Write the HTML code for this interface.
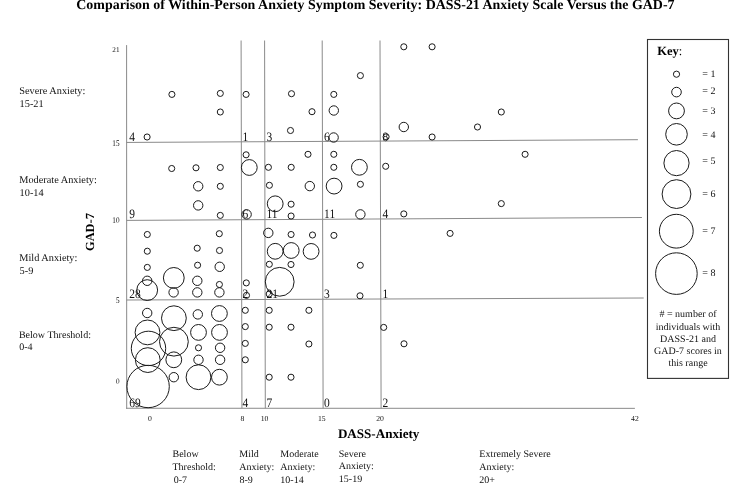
<!DOCTYPE html>
<html><head><meta charset="utf-8"><title>Comparison of Within-Person Anxiety Symptom Severity</title>
<style>
html,body{margin:0;padding:0;background:#fff;}
body{width:743px;height:495px;overflow:hidden;}
svg{display:block;text-rendering:geometricPrecision;font-family:"Liberation Serif",serif;}
.g{stroke:#8a8a8a;stroke-width:1;fill:none;}
.c{stroke:#1a1a1a;stroke-width:1;fill:none;}
.t{font-size:7.2px;fill:#111;}
.n{font-size:11.5px;fill:#111;}
.l{font-size:10px;fill:#111;}
.k{font-size:10px;fill:#111;}
.b{font-weight:bold;fill:#000;}
</style></head><body>
<svg width="743" height="495" viewBox="0 0 743 495">
<rect width="743" height="495" fill="#fff"/>
<text class="b" x="375.4" y="9.2" font-size="13.9px" text-anchor="middle" textLength="598.2" lengthAdjust="spacingAndGlyphs">Comparison of Within-Person Anxiety Symptom Severity: DASS-21 Anxiety Scale Versus the GAD-7</text>
<g class="g">
<line x1="126.6" y1="45.1" x2="126.7" y2="408.8"/>
<line x1="126.1" y1="408.25" x2="634.9" y2="408.35"/>
<line x1="241.1" y1="40.5" x2="241.95" y2="408.3"/>
<line x1="264.6" y1="40.5" x2="265.3" y2="408.3"/>
<line x1="322.2" y1="40.5" x2="323.1" y2="408.3"/>
<line x1="380.0" y1="40.5" x2="381.1" y2="408.3"/>
<line x1="126.5" y1="142.45" x2="637.9" y2="139.7"/>
<line x1="126.5" y1="220.4" x2="641.9" y2="217.5"/>
<line x1="126.5" y1="300.0" x2="643.7" y2="298.0"/>
</g>
<g class="c">
<circle cx="403.8" cy="46.8" r="3.05"/>
<circle cx="432.1" cy="46.8" r="3.05"/>
<circle cx="360.4" cy="75.6" r="3.05"/>
<circle cx="171.9" cy="94.4" r="3.05"/>
<circle cx="220.3" cy="93.4" r="3.05"/>
<circle cx="246.1" cy="94.4" r="3.05"/>
<circle cx="291.5" cy="93.7" r="3.05"/>
<circle cx="333.8" cy="94.4" r="3.05"/>
<circle cx="220.3" cy="112" r="3.05"/>
<circle cx="312" cy="111.7" r="3.05"/>
<circle cx="333.8" cy="110.5" r="4.7"/>
<circle cx="501.3" cy="112" r="3.05"/>
<circle cx="290.5" cy="130.5" r="3.05"/>
<circle cx="403.8" cy="127" r="4.7"/>
<circle cx="477.5" cy="127" r="3.05"/>
<circle cx="147.1" cy="137" r="3.05"/>
<circle cx="333.6" cy="137.5" r="4.7"/>
<circle cx="386.1" cy="136.8" r="3.05"/>
<circle cx="432.1" cy="137" r="3.05"/>
<circle cx="246.1" cy="154.8" r="3.05"/>
<circle cx="308" cy="154.3" r="3.05"/>
<circle cx="333.8" cy="154.3" r="3.05"/>
<circle cx="525.1" cy="154.3" r="3.05"/>
<circle cx="171.7" cy="168.5" r="3.05"/>
<circle cx="196" cy="167.8" r="3.05"/>
<circle cx="220.3" cy="167.5" r="3.05"/>
<circle cx="249.3" cy="167.5" r="7.9"/>
<circle cx="268.4" cy="167.3" r="3.05"/>
<circle cx="291.2" cy="167.3" r="3.05"/>
<circle cx="333.8" cy="167.3" r="3.05"/>
<circle cx="359.4" cy="167.3" r="7.9"/>
<circle cx="385.7" cy="166.3" r="3.05"/>
<circle cx="198.2" cy="186.3" r="4.7"/>
<circle cx="220.3" cy="186.3" r="3.05"/>
<circle cx="269.4" cy="185.3" r="3.05"/>
<circle cx="309.8" cy="186.1" r="4.7"/>
<circle cx="334.1" cy="186.1" r="7.9"/>
<circle cx="360.4" cy="184.3" r="3.05"/>
<circle cx="198.2" cy="205.4" r="4.7"/>
<circle cx="275.2" cy="203.8" r="7.9"/>
<circle cx="291.1" cy="204.2" r="3.05"/>
<circle cx="501.3" cy="203.6" r="3.05"/>
<circle cx="220.3" cy="215.4" r="3.05"/>
<circle cx="246.6" cy="214.4" r="4.7"/>
<circle cx="291.1" cy="216" r="3.05"/>
<circle cx="360.4" cy="214.4" r="4.7"/>
<circle cx="403.8" cy="213.9" r="3.05"/>
<circle cx="147.3" cy="234.5" r="3.05"/>
<circle cx="219.3" cy="233.7" r="3.05"/>
<circle cx="268.3" cy="232.9" r="4.7"/>
<circle cx="291.1" cy="234.5" r="3.05"/>
<circle cx="312.5" cy="235" r="3.05"/>
<circle cx="333.9" cy="235.4" r="3.05"/>
<circle cx="450.1" cy="233.4" r="3.05"/>
<circle cx="197.2" cy="248.2" r="3.05"/>
<circle cx="147.3" cy="251.2" r="3.05"/>
<circle cx="219.5" cy="250.5" r="3.05"/>
<circle cx="275.2" cy="251.3" r="7.9"/>
<circle cx="291.2" cy="250.5" r="7.9"/>
<circle cx="311.1" cy="251.4" r="7.9"/>
<circle cx="147.3" cy="267.4" r="3.05"/>
<circle cx="197.6" cy="265.2" r="3.05"/>
<circle cx="219.7" cy="266.8" r="4.7"/>
<circle cx="269.3" cy="264.3" r="3.05"/>
<circle cx="291" cy="264.5" r="3.05"/>
<circle cx="360.3" cy="265.3" r="3.05"/>
<circle cx="173.8" cy="277.9" r="10.4"/>
<circle cx="147.2" cy="280.8" r="4.7"/>
<circle cx="197.3" cy="280.8" r="4.7"/>
<circle cx="219.4" cy="284.5" r="3.05"/>
<circle cx="279.7" cy="281.8" r="14.4"/>
<circle cx="246.3" cy="282.9" r="3.05"/>
<circle cx="147.2" cy="290.1" r="10.4"/>
<circle cx="173.6" cy="292.4" r="4.7"/>
<circle cx="197.3" cy="292.4" r="4.7"/>
<circle cx="219.4" cy="292.4" r="4.7"/>
<circle cx="246.5" cy="295.4" r="3.05"/>
<circle cx="269.2" cy="294" r="3.05"/>
<circle cx="360" cy="295.8" r="3.05"/>
<circle cx="147.2" cy="313" r="4.7"/>
<circle cx="173.9" cy="318.2" r="12.4"/>
<circle cx="197.8" cy="314.4" r="4.7"/>
<circle cx="219.4" cy="313.5" r="7.9"/>
<circle cx="245.3" cy="310.3" r="3.05"/>
<circle cx="269.2" cy="310.3" r="3.05"/>
<circle cx="308.9" cy="310.3" r="3.05"/>
<circle cx="147.5" cy="332.4" r="12.4"/>
<circle cx="198.5" cy="332.4" r="7.9"/>
<circle cx="219.5" cy="332.4" r="7.9"/>
<circle cx="245.3" cy="326.6" r="3.05"/>
<circle cx="269.2" cy="327.2" r="3.05"/>
<circle cx="291" cy="327.2" r="3.05"/>
<circle cx="383.7" cy="327.4" r="3.05"/>
<circle cx="173.9" cy="341.7" r="14.4"/>
<circle cx="148.5" cy="348.4" r="17.2"/>
<circle cx="198.5" cy="347.8" r="3.05"/>
<circle cx="220.1" cy="347.8" r="4.7"/>
<circle cx="245.3" cy="343.4" r="3.05"/>
<circle cx="308.9" cy="344" r="3.05"/>
<circle cx="404" cy="343.8" r="3.05"/>
<circle cx="147.8" cy="360.1" r="12.4"/>
<circle cx="173.8" cy="359.8" r="7.9"/>
<circle cx="198.5" cy="359.8" r="4.7"/>
<circle cx="220.1" cy="359.8" r="4.7"/>
<circle cx="245.3" cy="359.8" r="3.05"/>
<circle cx="173.8" cy="377.2" r="4.7"/>
<circle cx="198.5" cy="377.2" r="12.4"/>
<circle cx="219.4" cy="377.2" r="7.9"/>
<circle cx="269.2" cy="377.2" r="3.05"/>
<circle cx="291" cy="377.2" r="3.05"/>
<circle cx="148.1" cy="386.5" r="21.2"/>
</g>
<text class="t" transform="translate(119.5,52.0) scale(1,1.0)" text-anchor="end">21</text>
<text class="t" transform="translate(119.5,145.9) scale(1,1.22)" text-anchor="end">15</text>
<text class="t" transform="translate(119.5,223.0) scale(1,1.2)" text-anchor="end">10</text>
<text class="t" transform="translate(119.5,302.9) scale(1,1.2)" text-anchor="end">5</text>
<text class="t" transform="translate(119.5,383.9) scale(1,1.17)" text-anchor="end">0</text>
<text class="t" style="font-size:7.7px" x="150" y="421.2" text-anchor="middle">0</text>
<text class="t" style="font-size:7.7px" x="242.5" y="421.2" text-anchor="middle">8</text>
<text class="t" style="font-size:7.7px" x="264.5" y="421.2" text-anchor="middle">10</text>
<text class="t" style="font-size:7.7px" x="321.8" y="421.2" text-anchor="middle">15</text>
<text class="t" style="font-size:7.7px" x="380.0" y="421.2" text-anchor="middle">20</text>
<text class="t" style="font-size:7.7px" x="634.9" y="421.2" text-anchor="middle">42</text>
<text class="n" transform="translate(129.2,140.5) scale(1,1.12)">4</text>
<text class="n" transform="translate(242.4,140.5) scale(1,1.12)">1</text>
<text class="n" transform="translate(266.4,140.5) scale(1,1.12)">3</text>
<text class="n" transform="translate(324.1,140.5) scale(1,1.12)">6</text>
<text class="n" transform="translate(382.4,140.5) scale(1,1.12)">8</text>
<text class="n" transform="translate(129.2,218.3) scale(1,1.12)">9</text>
<text class="n" transform="translate(242.4,218.3) scale(1,1.12)">6</text>
<text class="n" transform="translate(266.4,218.3) scale(1,1.12)">11</text>
<text class="n" transform="translate(324.1,218.3) scale(1,1.12)">11</text>
<text class="n" transform="translate(382.4,218.3) scale(1,1.12)">4</text>
<text class="n" transform="translate(129.2,298.2) scale(1,1.12)">28</text>
<text class="n" transform="translate(242.4,298.2) scale(1,1.12)">2</text>
<text class="n" transform="translate(266.4,298.2) scale(1,1.12)">21</text>
<text class="n" transform="translate(324.1,298.2) scale(1,1.12)">3</text>
<text class="n" transform="translate(382.4,298.2) scale(1,1.12)">1</text>
<text class="n" transform="translate(129.2,406.6) scale(1,1.12)">69</text>
<text class="n" transform="translate(242.4,406.6) scale(1,1.12)">4</text>
<text class="n" transform="translate(266.4,406.6) scale(1,1.12)">7</text>
<text class="n" transform="translate(324.1,406.6) scale(1,1.12)">0</text>
<text class="n" transform="translate(382.4,406.6) scale(1,1.12)">2</text>
<text class="l" style="font-size:10.3px" x="19.3" y="93.8">Severe Anxiety:</text><text class="l" style="font-size:10.3px" x="19.6" y="106.9">15-21</text>
<text class="l" style="font-size:10.3px" x="19.3" y="183.0">Moderate Anxiety:</text><text class="l" style="font-size:10.3px" x="19.6" y="196.0">10-14</text>
<text class="l" style="font-size:10.3px" x="19.3" y="260.8">Mild Anxiety:</text><text class="l" style="font-size:10.3px" x="19.6" y="273.5">5-9</text>
<text class="l" style="font-size:10.05px" x="18.9" y="337.5">Below Threshold:</text><text class="l" style="font-size:10.05px" x="19.2" y="350.4">0-4</text>
<text class="b" font-size="12.4px" transform="translate(94.2,251) rotate(-90)">GAD-7</text>
<text class="b" font-size="13.1px" x="337.9" y="438.4">DASS-Anxiety</text>
<text class="l" x="172.5" y="457.4">Below</text><text class="l" x="172.5" y="469.9">Threshold:</text><text class="l" x="173.7" y="482.6">0-7</text>
<text class="l" x="239.3" y="457.4">Mild</text><text class="l" x="239.3" y="469.9">Anxiety:</text><text class="l" x="239.5" y="482.6">8-9</text>
<text class="l" x="280.3" y="457.4">Moderate</text><text class="l" x="280.3" y="469.9">Anxiety:</text><text class="l" x="280.3" y="482.6">10-14</text>
<text class="l" x="338.8" y="456.8">Severe</text><text class="l" x="338.8" y="469.2">Anxiety:</text><text class="l" x="338.8" y="482.3">15-19</text>
<text class="l" x="479.3" y="457.3">Extremely Severe</text><text class="l" x="479.3" y="470.0">Anxiety:</text><text class="l" x="479.3" y="482.9">20+</text>
<rect x="647.5" y="39.5" width="81.0" height="338.9" fill="none" stroke="#333" stroke-width="1.1"/>
<text x="657.3" y="55.3" font-size="12.5px" fill="#000"><tspan font-weight="bold">Key</tspan>:</text>
<g class="c">
<circle cx="676.5" cy="74.2" r="3.1"/>
<circle cx="676.5" cy="92.1" r="4.8"/>
<circle cx="676.5" cy="110.9" r="7.9"/>
<circle cx="676.5" cy="134.3" r="10.8"/>
<circle cx="676.5" cy="163.1" r="12.6"/>
<circle cx="676.5" cy="194.1" r="14.4"/>
<circle cx="676.3" cy="231.2" r="16.9"/>
<circle cx="676.4" cy="273.6" r="20.8"/>
</g>
<text class="k" x="702.3" y="76.9">= 1</text>
<text class="k" x="702.3" y="94.3">= 2</text>
<text class="k" x="702.3" y="113.9">= 3</text>
<text class="k" x="702.3" y="137.8">= 4</text>
<text class="k" x="702.3" y="163.6">= 5</text>
<text class="k" x="702.3" y="197.2">= 6</text>
<text class="k" x="702.3" y="234.3">= 7</text>
<text class="k" x="702.3" y="276.2">= 8</text>
<text class="k" x="688" y="317.4" text-anchor="middle"># = number of</text>
<text class="k" x="688" y="329.6" text-anchor="middle">individuals with</text>
<text class="k" x="688" y="341.8" text-anchor="middle">DASS-21 and</text>
<text class="k" x="688" y="353.9" text-anchor="middle">GAD-7 scores in</text>
<text class="k" x="688" y="366.1" text-anchor="middle">this range</text>
</svg>
</body></html>
